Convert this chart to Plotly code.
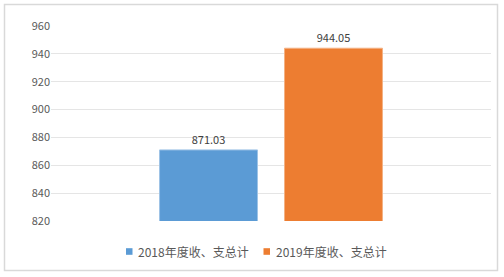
import plotly.graph_objects as go

categories = ["总计"]
series_names = ["2018年度收、支总计", "2019年度收、支总计"]
values_2018 = [871.03]
values_2019 = [944.05]
colors = ["#5B9BD5", "#ED7D31"]
line_colors = ["#9DC3E6", "#F4B183"]
y_ticks = [820, 840, 860, 880, 900, 920, 940, 960]

font_family = "Noto Sans CJK SC, Open Sans, sans-serif"
text_color = "#404040"

fig = go.Figure()
for name, vals, c, lc in zip(series_names, [values_2018, values_2019], colors, line_colors):
    fig.add_trace(go.Bar(
        x=categories, y=vals, name=name,
        marker=dict(color=c, line=dict(color=lc, width=1)),
        text=[f"{v:.2f}" for v in vals], textposition="outside",
        textfont=dict(size=11, color=text_color, family=font_family),
        cliponaxis=False, showlegend=False,
    ))

W, H = 504, 277
l, r, t, b = 51, 13, 26, 56
pw, ph = W - l - r, H - t - b

def px_x(p):
    return (p - l) / pw

def px_y(p):
    return (H - b - p) / ph

fig.add_shape(type="rect", xref="paper", yref="paper",
              x0=px_x(4.5), x1=px_x(497.5), y0=px_y(270.5), y1=px_y(4.5),
              line=dict(color="#D9D9D9", width=1.5), fillcolor="rgba(0,0,0,0)", layer="below")

# custom legend (small square + close text, as in the reference)
legend_sq_x = [126, 263.5]
legend_txt_x = [136, 274]
legend_y = 251.5
for name, c, sx, tx in zip(series_names, colors, legend_sq_x, legend_txt_x):
    fig.add_shape(type="rect", xref="paper", yref="paper",
                  x0=px_x(sx), x1=px_x(sx + 6.5), y0=px_y(legend_y + 3.3), y1=px_y(legend_y - 3.3),
                  line=dict(width=0), fillcolor=c)
    fig.add_annotation(xref="paper", yref="paper", x=px_x(tx), y=px_y(legend_y),
                       xanchor="left", yanchor="middle", text=name, showarrow=False,
                       font=dict(size=12, color="#595959", family=font_family))

fig.update_layout(
    width=W, height=H,
    margin=dict(l=l, r=r, t=t, b=b, pad=0),
    paper_bgcolor="white", plot_bgcolor="white",
    barmode="group", bargap=0.432, bargroupgap=0.216,
    showlegend=False,
    font=dict(family=font_family, size=11, color=text_color),
    xaxis=dict(showticklabels=False, showgrid=False, zeroline=False, showline=False, ticks=""),
    yaxis=dict(range=[820, 960], tickvals=y_ticks, showgrid=True, gridcolor="#E5E5E5", gridwidth=1,
               zeroline=False, showline=False, ticks="", ticklen=0,
               tickfont=dict(size=11, color="#595959", family=font_family)),
)

fig.write_html("out.html")
